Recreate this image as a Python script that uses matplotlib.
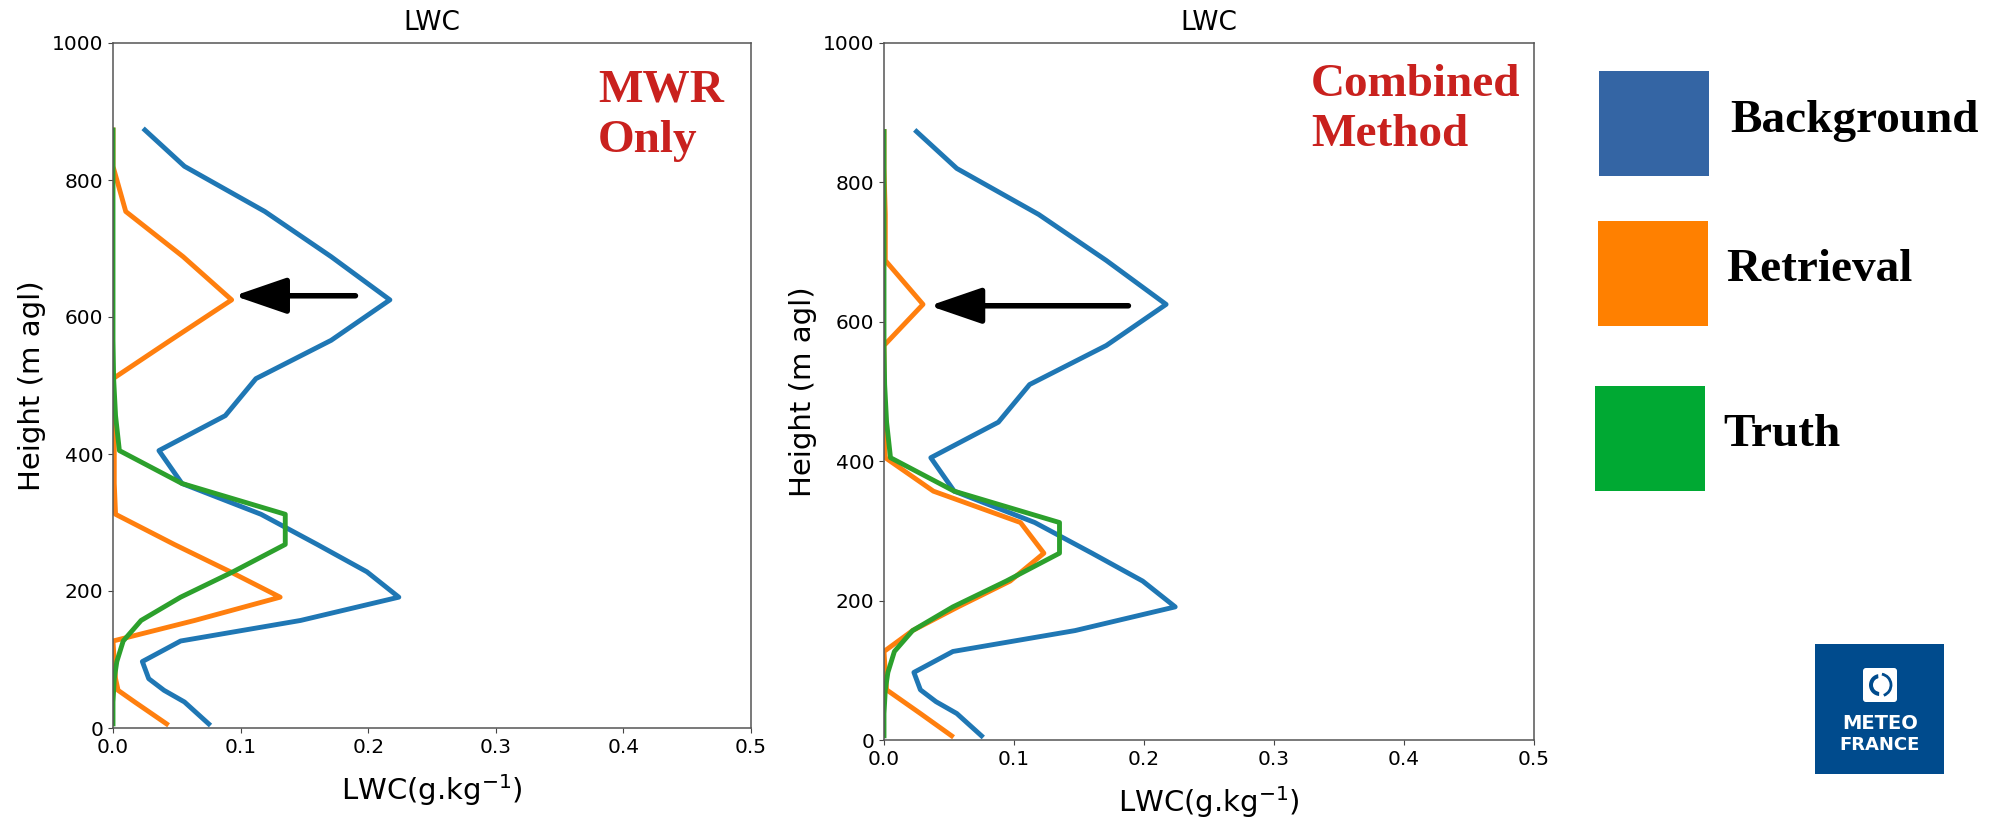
import numpy as np
import matplotlib
matplotlib.use('Agg')
import matplotlib.pyplot as plt
from matplotlib.patches import Rectangle, FancyBboxPatch, Wedge, Arc
from matplotlib.ticker import MultipleLocator

# niveaux verticaux (m agl)
height = [6, 38, 55, 72, 97, 127, 157, 191, 228, 268, 312, 357, 405, 456, 510, 566, 625, 688, 754, 820, 873]

# LWC (g/kg)
background = [0.075, 0.056, 0.040, 0.028, 0.023, 0.053, 0.147, 0.224, 0.199, 0.160, 0.116,
              0.054, 0.036, 0.088, 0.112, 0.171, 0.217, 0.171, 0.119, 0.056, 0.025]
truth = [0.0, 0.0, 0.0005, 0.001, 0.003, 0.008, 0.022, 0.053, 0.094, 0.135, 0.135,
         0.054, 0.005, 0.002, 0.0005, 0.0, 0.0, 0.0, 0.0, 0.0, 0.0]
retrieval_mwr = [0.042, 0.017, 0.004, 0.002, 0.001, 0.0, 0.064, 0.131, 0.092, 0.048, 0.002,
                 0.001, 0.001, 0.001, 0.0, 0.045, 0.093, 0.055, 0.010, 0.0, 0.0]
retrieval_comb = [0.052, 0.028, 0.015, 0.002, 0.001, 0.0, 0.022, 0.057, 0.097, 0.123, 0.105,
                  0.038, 0.001, 0.0, 0.0, 0.0, 0.030, 0.001, 0.001, 0.0, 0.0]

panel_names = [["MWR", "Only"], ["Combined", "Method"]]
legend_labels = ["Background", "Retrieval", "Truth"]
legend_colors = ['#3465a4', '#ff8000', '#00a933']

W, H = 2002, 818
fig = plt.figure(figsize=(W / 100, H / 100), dpi=100)


def px_axes(x0, y0, x1, y1):
    # axes placée en pixels (origine en haut a gauche)
    return fig.add_axes([x0 / W, 1 - y1 / H, (x1 - x0) / W, (y1 - y0) / H])


axes = [px_axes(113, 43, 751, 728), px_axes(884, 43, 1534, 740)]
retrievals = [retrieval_mwr, retrieval_comb]
arrows = [(0.095, 0.19, 631), (0.035, 0.188, 623)]

for ax, ret, (tip, tail, ya) in zip(axes, retrievals, arrows):
    ax.plot(background, height, color='#1f77b4', lw=3.5)
    ax.plot(ret, height, color='#ff7f0e', lw=3.5)
    ax.plot(truth, height, color='#2ca02c', lw=3.5)
    ax.set_xlim(0, 0.5)
    ax.set_ylim(0, 1000)
    ax.xaxis.set_major_locator(MultipleLocator(0.1))
    ax.yaxis.set_major_locator(MultipleLocator(200))
    ax.tick_params(labelsize=14.5, color='#444444')
    for s in ax.spines.values():
        s.set_color('#555555')
        s.set_linewidth(1.1)
    ax.set_title('LWC', fontsize=19, pad=9)
    ax.set_xlabel(r'LWC(g.kg$^{-1}$)', fontsize=21, labelpad=11)
    ax.set_ylabel('Height (m agl)', fontsize=21)
    ax.annotate('', xy=(tip, ya), xytext=(tail, ya),
                arrowprops=dict(arrowstyle='-|>,head_length=1.6,head_width=0.55',
                                color='k', lw=4, shrinkA=0, shrinkB=0,
                                mutation_scale=20))

# calque en pixels pour les textes, la legende et le logo
over = fig.add_axes([0, 0, 1, 1])
over.set_xlim(0, W)
over.set_ylim(H, 0)
over.axis('off')
over.patch.set_alpha(0)

red = '#c9211e'
serif = dict(family='Liberation Serif', weight='bold', fontsize=34)
over.text(598, 101, panel_names[0][0], color=red, va='baseline', **serif)
over.text(598, 152, panel_names[0][1], color=red, va='baseline', **serif)
over.text(1311, 96, panel_names[1][0], color=red, va='baseline', **serif)
over.text(1311, 146, panel_names[1][1], color=red, va='baseline', **serif)

# legende faite a la main (carres de couleur)
squares = [(1599, 71), (1598, 221), (1595, 386)]
text_pos = [(1730, 132), (1726, 281), (1723, 446)]
for (sx, sy), (tx, ty), lab, col in zip(squares, text_pos, legend_labels, legend_colors):
    over.add_patch(Rectangle((sx, sy), 110, 105, facecolor=col, edgecolor='none'))
    over.text(tx, ty, lab, color='k', va='baseline', **serif)

# logo Meteo-France
logo_blue = '#004b8d'
over.add_patch(Rectangle((1815, 644), 129, 130, facecolor=logo_blue, edgecolor='none'))
over.add_patch(FancyBboxPatch((1865, 670), 30, 30, boxstyle='round,pad=2,rounding_size=3',
                              facecolor='white', edgecolor='none'))
over.add_patch(Wedge((1880, 685), 11, 95, 265, facecolor=logo_blue, edgecolor='none'))
over.add_patch(Wedge((1880, 685), 7, 90, 270, facecolor='white', edgecolor='none'))
over.add_patch(Arc((1880, 685), 22, 22, theta1=-80, theta2=70, color=logo_blue, lw=2))
over.plot([1879, 1881], [672, 698], color='white', lw=1.5)
over.text(1880, 729, 'METEO', color='white', ha='center', va='baseline',
          fontsize=14, weight='bold', family='DejaVu Sans')
over.text(1880, 750, 'FRANCE', color='white', ha='center', va='baseline',
          fontsize=13, weight='bold', family='DejaVu Sans')

plt.savefig('out.png', dpi=100)
plt.close()
